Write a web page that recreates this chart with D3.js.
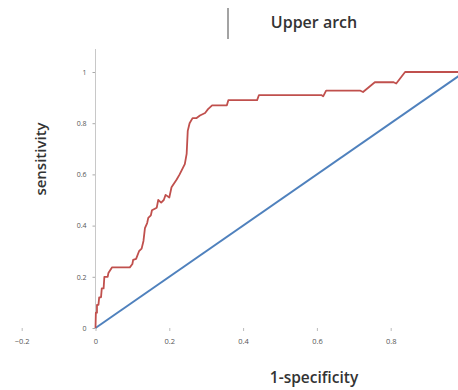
<!DOCTYPE html>
<html><head><meta charset="utf-8">
<script src="https://cdn.jsdelivr.net/npm/d3@7"></script>
<style>body{margin:0;background:#fff;}svg{display:block;}</style>
</head><body>
<script>
const title = "Upper arch";
const xLabel = "1-specificity";
const yLabel = "sensitivity";
const xTicks = [-0.2, 0, 0.2, 0.4, 0.6, 0.8];
const yTicks = [0, 0.2, 0.4, 0.6, 0.8, 1];
// ROC curve (1-specificity, sensitivity)
const rocFpr = [0,0.001,0.004,0.004,0.008,0.010,0.015,0.017,0.022,0.024,0.033,0.035,0.045,0.093,0.100,0.102,0.110,0.118,0.125,0.130,0.134,0.140,0.143,0.150,0.153,0.166,0.170,0.178,0.185,0.190,0.200,0.206,0.220,0.228,0.242,0.247,0.250,0.255,0.263,0.274,0.283,0.297,0.305,0.316,0.356,0.360,0.438,0.443,0.612,0.617,0.625,0.718,0.725,0.757,0.808,0.815,0.839,1];
const rocTpr = [0,0.060,0.060,0.090,0.090,0.120,0.120,0.155,0.155,0.200,0.200,0.215,0.237,0.237,0.250,0.266,0.270,0.300,0.310,0.340,0.390,0.410,0.430,0.440,0.460,0.470,0.500,0.490,0.500,0.520,0.510,0.550,0.580,0.600,0.640,0.680,0.770,0.800,0.820,0.820,0.830,0.840,0.855,0.870,0.870,0.890,0.890,0.910,0.910,0.905,0.927,0.927,0.922,0.960,0.960,0.955,1.000,1.000];
const refFpr = [0, 1];
const refTpr = [0, 1];

const W = 458, H = 390;
const svg = d3.select("body").append("svg").attr("width", W).attr("height", H);
const x = d3.scaleLinear().domain([-0.2, 1]).range([21.7, 464.5]);
const y = d3.scaleLinear().domain([0, 1]).range([328, 72]);
const font = "'Open Sans', 'Liberation Sans', sans-serif";

// title with small vertical bar
svg.append("line").attr("x1", 228).attr("x2", 228).attr("y1", 8).attr("y2", 39)
  .attr("stroke", "#666").attr("stroke-width", 1.2);
svg.append("text").attr("x", 314).attr("y", 28).attr("text-anchor", "middle")
  .attr("font-family", font).attr("font-size", 16).attr("font-weight", 600).attr("fill", "#333").text(title);

// y axis
const yAxis = svg.append("g").attr("transform", `translate(${x(0)},0)`)
  .call(d3.axisLeft(y).tickValues(yTicks).tickSize(3).tickPadding(6).tickFormat(d => d3.format("")(d)));
yAxis.select(".domain").remove();
yAxis.append("line").attr("x1", 0).attr("x2", 0).attr("y1", y(0)).attr("y2", 49).attr("stroke", "#c8c8c8");
yAxis.selectAll(".tick line").attr("stroke", "#aaa");
yAxis.selectAll(".tick text").attr("font-family", font).attr("font-size", 7).attr("fill", "#555");

// x axis (no line)
const xAxis = svg.append("g").attr("transform", `translate(0,${y(0)})`)
  .call(d3.axisBottom(x).tickValues(xTicks).tickSize(3).tickPadding(8).tickFormat(d => d3.format("")(d)));
xAxis.select(".domain").remove();
xAxis.selectAll(".tick line").attr("stroke", "#bbb");
xAxis.selectAll(".tick text").attr("font-family", font).attr("font-size", 7.5).attr("fill", "#555");

// axis labels
svg.append("text").attr("transform", `translate(46,159) rotate(-90)`).attr("text-anchor", "middle")
  .attr("font-family", font).attr("font-size", 15).attr("font-weight", 600).attr("fill", "#333").text(yLabel);
svg.append("text").attr("x", 314).attr("y", 383).attr("text-anchor", "middle")
  .attr("font-family", font).attr("font-size", 15.5).attr("font-weight", 600).attr("fill", "#333").text(xLabel);

// reference diagonal
const line = d3.line().x(d => x(d[0])).y(d => y(d[1]));
svg.append("path").datum(d3.zip(refFpr, refTpr)).attr("d", line)
  .attr("fill", "none").attr("stroke", "#4f81bd").attr("stroke-width", 2);

// ROC curve
svg.append("path").datum(d3.zip(rocFpr, rocTpr)).attr("d", line)
  .attr("fill", "none").attr("stroke", "#c0504d").attr("stroke-width", 1.8).attr("stroke-linejoin", "round");
</script>
</body></html>
